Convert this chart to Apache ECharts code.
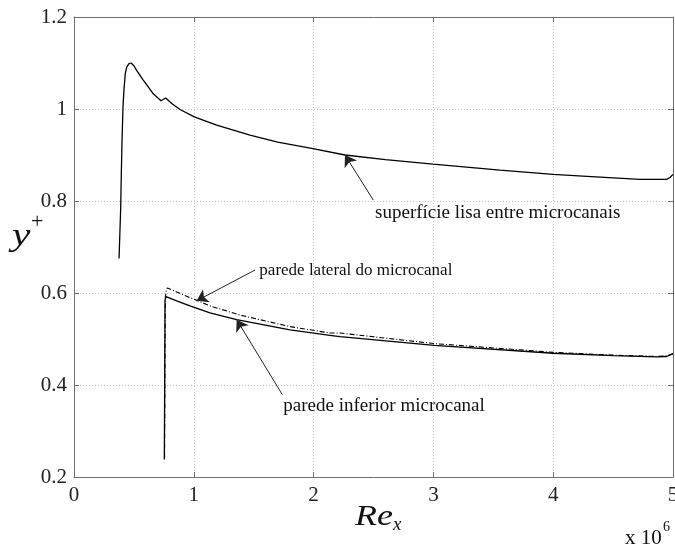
<!DOCTYPE html>
<html><head><meta charset="utf-8">
<script src="https://cdn.jsdelivr.net/npm/echarts@6/dist/echarts.min.js"></script>
<style>html,body{margin:0;padding:0;background:#fff}#c{width:675px;height:549px}</style>
</head><body><div id="c"></div>
<script>
// axis ticks
const xTickValues = [0, 1, 2, 3, 4, 5];
const yTickValues = [0.2, 0.4, 0.6, 0.8, 1.0, 1.2];

// superfície lisa entre microcanais
const reSuperficie = [0.376, 0.381, 0.390, 0.395, 0.401, 0.409, 0.417, 0.428, 0.440, 0.457, 0.476, 0.500, 0.523, 0.578, 0.662, 0.726, 0.735, 0.765, 0.816, 0.885, 1.004, 1.191, 1.469, 1.700, 1.995, 2.262, 2.600, 2.997, 3.556, 3.998, 4.391, 4.725, 4.947, 4.975, 5.000];
const ySuperficie  = [0.675, 0.715, 0.787, 0.860, 0.932, 1.004, 1.041, 1.077, 1.091, 1.098, 1.100, 1.094, 1.084, 1.063, 1.033, 1.018, 1.018, 1.024, 1.012, 0.999, 0.983, 0.965, 0.943, 0.928, 0.914, 0.900, 0.890, 0.880, 0.867, 0.858, 0.852, 0.847, 0.847, 0.851, 0.858];

// parede inferior microcanal
const reInferior = [0.754, 0.760, 0.768, 0.779, 0.857, 0.968, 1.135, 1.358, 1.803, 2.137, 2.220, 3.008, 4.001, 4.500, 4.864, 4.947, 5.000];
const yInferior  = [0.238, 0.585, 0.592, 0.594, 0.583, 0.572, 0.557, 0.542, 0.520, 0.508, 0.505, 0.486, 0.469, 0.464, 0.461, 0.462, 0.468];

// parede lateral do microcanal
const reLateral = [0.756, 0.762, 0.770, 0.779, 0.787, 0.912, 1.024, 1.135, 1.386, 1.803, 2.137, 2.220, 3.008, 4.001, 4.500, 4.864, 4.947, 5.000];
const yLateral  = [0.240, 0.590, 0.605, 0.611, 0.611, 0.596, 0.584, 0.572, 0.552, 0.527, 0.513, 0.513, 0.490, 0.471, 0.465, 0.462, 0.463, 0.468];

// annotations (data units): text, text anchor, arrow tail, arrow tip
const annTexts  = ['superfície lisa entre microcanais', 'parede lateral do microcanal', 'parede inferior microcanal'];
const annAnchor = [[2.513, 0.774], [1.547, 0.649], [1.747, 0.354]];
const annTail   = [[2.498, 0.802], [1.511, 0.650], [1.739, 0.379]];
const annTip    = [[2.262, 0.900], [1.024, 0.583], [1.358, 0.542]];
const annSize   = [19, 17, 19];

const zip = (a, b) => a.map((v, i) => [v, b[i]]);
const serif = '"Liberation Serif", "Times New Roman", serif';
const axisCol = '#6e6e6e';

const chart = echarts.init(document.getElementById('c'));

function mkX(pos, show) {
  return {
    type: 'value', min: xTickValues[0], max: xTickValues[xTickValues.length - 1], interval: 1,
    position: pos,
    axisLine: {show: true, onZero: false, lineStyle: {color: axisCol, width: 1}},
    axisTick: {show: true, inside: true, length: 5, lineStyle: {color: axisCol}},
    axisLabel: {show: show, margin: 8, color: '#222', fontFamily: serif, fontSize: 21},
    splitLine: {show: show, lineStyle: {color: '#c8c8c8', type: [1, 2], width: 1}}
  };
}
function mkY(pos, show) {
  return {
    type: 'value', min: yTickValues[0], max: yTickValues[yTickValues.length - 1], interval: 0.2,
    position: pos,
    axisLine: {show: true, onZero: false, lineStyle: {color: axisCol, width: 1}},
    axisTick: {show: true, inside: true, length: 5, lineStyle: {color: axisCol}},
    axisLabel: {show: show, margin: 7, color: '#222', fontFamily: serif, fontSize: 21,
      formatter: v => String(+v.toFixed(1))},
    splitLine: {show: show, lineStyle: {color: '#c8c8c8', type: [1, 2], width: 1}}
  };
}

const arrowLines = annTail.map((t, i) => [{coord: t}, {coord: annTip[i]}]);

chart.setOption({
  animation: false,
  backgroundColor: '#fff',
  grid: {left: 74, right: 2, top: 17, bottom: 72, containLabel: false, outerBoundsMode: 'none'},
  xAxis: [mkX('bottom', true), mkX('top', false)],
  yAxis: [mkY('left', true), mkY('right', false)],
  series: [
    {type: 'line', name: 'superfície lisa entre microcanais', data: zip(reSuperficie, ySuperficie),
      symbol: 'none', lineStyle: {color: '#000', width: 1.3}, z: 3},
    {type: 'line', name: 'parede lateral do microcanal', data: zip(reLateral, yLateral),
      symbol: 'none', lineStyle: {color: '#000', width: 1.1, type: [5, 2, 1, 2]}, z: 3},
    {type: 'line', name: 'parede inferior microcanal', data: zip(reInferior, yInferior),
      symbol: 'none', lineStyle: {color: '#000', width: 1.3}, z: 3,
      markLine: {silent: true, symbol: ['none', 'arrow'], symbolSize: 11, precision: 4,
        label: {show: false}, lineStyle: {color: '#222', width: 1, type: 'solid'},
        data: arrowLines}}
  ]
});

const g = [];
annTexts.forEach((t, i) => {
  const p = chart.convertToPixel({gridIndex: 0}, annAnchor[i]);
  g.push({type: 'text', x: p[0], y: p[1], style: {text: t, fill: '#111', font: annSize[i] + 'px ' + serif,
    verticalAlign: 'middle', align: 'left'}});
});
// axis titles
g.push({type: 'text', x: 12, y: 237, scaleX: 1.3, style: {text: 'y', fill: '#111', font: 'italic 32px ' + serif, verticalAlign: 'middle'}});
g.push({type: 'text', x: 31, y: 222, style: {text: '+', fill: '#111', font: '22px ' + serif, verticalAlign: 'middle'}});
g.push({type: 'text', x: 355, y: 517, scaleX: 1.2, style: {text: 'Re', fill: '#111', font: 'italic 30px ' + serif, verticalAlign: 'middle'}});
g.push({type: 'text', x: 393, y: 525, style: {text: 'x', fill: '#111', font: 'italic 19px ' + serif, verticalAlign: 'middle'}});
g.push({type: 'text', x: 625, y: 538, style: {text: 'x 10', fill: '#111', font: '21px ' + serif, verticalAlign: 'middle'}});
g.push({type: 'text', x: 663, y: 527, style: {text: '6', fill: '#111', font: '14px ' + serif, verticalAlign: 'middle'}});
chart.setOption({graphic: g});
</script>
</body></html>
